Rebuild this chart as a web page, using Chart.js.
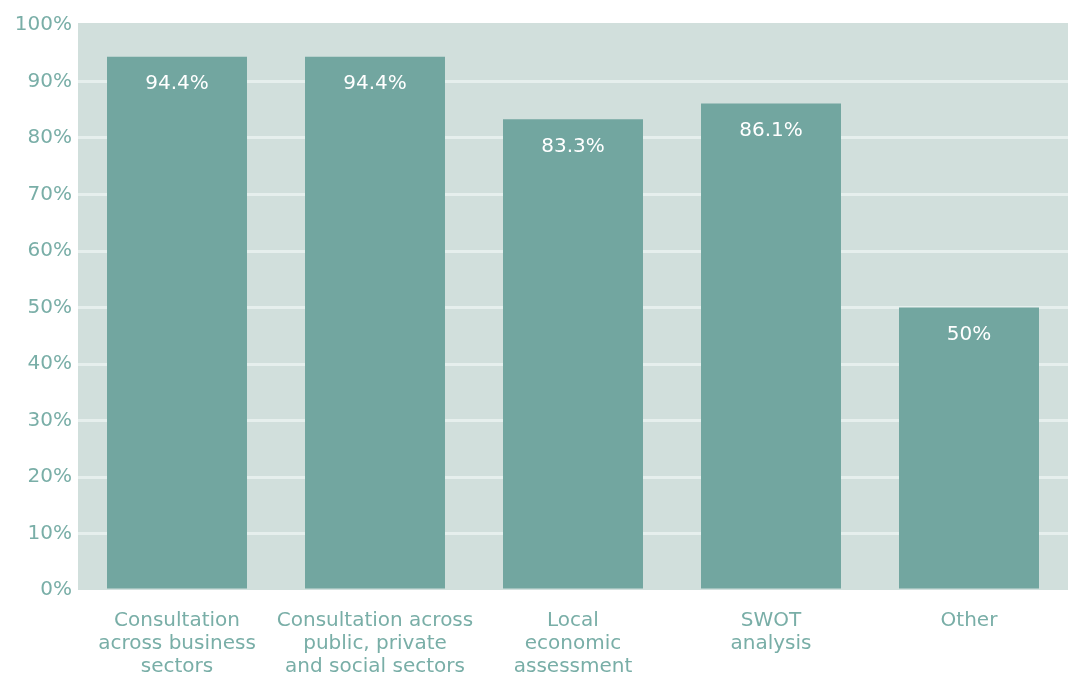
<html>
<head>
<title>Consultation methods</title>
<script src="https://cdn.jsdelivr.net/npm/chart.js"></script>
<style>
  body { margin: 0; background: #fff; }
  #wrap { position: relative; width: 1068px; height: 675px; }
</style>
</head>
<body>
<div id="wrap"><canvas id="myChart"></canvas></div>
<script>
const categories = [
  ['Consultation', 'across business', 'sectors'],
  ['Consultation across', 'public, private', 'and social sectors'],
  ['Local', 'economic', 'assessment'],
  ['SWOT', 'analysis'],
  ['Other']
];
const values = [94.4, 94.4, 83.3, 86.1, 50];
const valueLabels = ['94.4%', '94.4%', '83.3%', '86.1%', '50%'];

const teal = '#72a6a0';
const tickColor = '#79aea7';
const fontFamily = "'DejaVu Sans', sans-serif";

// light panel behind the bars
const panelBg = {
  id: 'panelBg',
  beforeDraw(chart) {
    const a = chart.chartArea, ctx = chart.ctx;
    ctx.save();
    ctx.fillStyle = '#d1dfdc';
    ctx.fillRect(a.left, a.top - 2, a.right - a.left, a.bottom - a.top + 2);
    ctx.restore();
  }
};

// white value text inside the top of each bar
const barText = {
  id: 'barText',
  afterDatasetsDraw(chart) {
    const ctx = chart.ctx;
    const meta = chart.getDatasetMeta(0);
    ctx.save();
    ctx.fillStyle = '#ffffff';
    ctx.font = '20px ' + fontFamily;
    ctx.textAlign = 'center';
    ctx.textBaseline = 'middle';
    meta.data.forEach(function (bar, i) {
      ctx.fillText(valueLabels[i], bar.x, bar.y + 27);
    });
    ctx.restore();
  }
};

const ctx = document.getElementById('myChart').getContext('2d');
new Chart(ctx, {
  type: 'bar',
  data: {
    labels: categories,
    datasets: [{
      data: values,
      backgroundColor: teal,
      borderWidth: 0,
      categoryPercentage: 1,
      barPercentage: 0.707
    }]
  },
  options: {
    responsive: true,
    maintainAspectRatio: false,
    animation: false,
    layout: { padding: { top: 25, right: 0, left: 0, bottom: 0 } },
    plugins: {
      legend: { display: false },
      tooltip: { enabled: false }
    },
    scales: {
      x: {
        grid: { display: false },
        border: { display: false },
        afterFit: function (scale) { scale.height = 85; },
        ticks: {
          color: tickColor,
          font: { size: 20, family: fontFamily, lineHeight: 1.15 },
          maxRotation: 0,
          autoSkip: false,
          padding: 11
        }
      },
      y: {
        min: 0,
        max: 100,
        border: { display: false },
        grid: {
          color: function (c) {
            return (c.tick && (c.tick.value === 0 || c.tick.value === 100)) ? 'rgba(0,0,0,0)' : '#e6efed';
          },
          lineWidth: 3,
          drawTicks: false
        },
        afterFit: function (scale) { scale.width = 78; },
        ticks: {
          stepSize: 10,
          color: tickColor,
          font: { size: 20, family: fontFamily },
          padding: 6,
          callback: function (v) { return v + '%'; }
        }
      }
    }
  },
  plugins: [panelBg, barText]
});
</script>
</body>
</html>
